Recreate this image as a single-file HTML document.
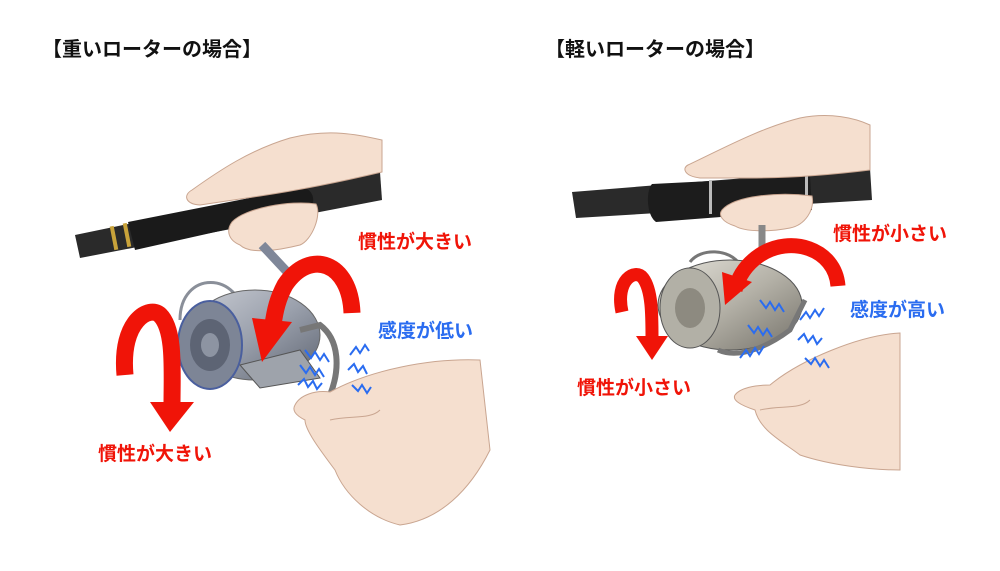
<!DOCTYPE html>
<html><head><meta charset="utf-8">
<style>
html,body{margin:0;padding:0;background:#fff;}
svg{display:block}
text{font-family:"Liberation Sans","Noto Sans CJK JP",sans-serif;font-weight:bold;}
</style></head><body>
<svg width="1000" height="571" viewBox="0 0 1000 571" xmlns="http://www.w3.org/2000/svg">
<defs>
<linearGradient id="reel" x1="0" y1="0" x2="1" y2="1">
<stop offset="0" stop-color="#c9ccd3"/><stop offset="0.5" stop-color="#9aa0ac"/><stop offset="1" stop-color="#5f6572"/></linearGradient>
<linearGradient id="reel2" x1="0" y1="0" x2="1" y2="1">
<stop offset="0" stop-color="#e4e2da"/><stop offset="0.5" stop-color="#b4b1a7"/><stop offset="1" stop-color="#75726a"/></linearGradient>
</defs>
<text x="42" y="56" font-size="20" fill="#111">【重いローターの場合】</text>
<text x="545" y="56" font-size="20" fill="#111">【軽いローターの場合】</text>

<!-- LEFT -->
<path d="M75 235 L380 172 L382 200 L80 258 Z" fill="#2a2a2a"/>
<path d="M128 222 L300 188 C315 186 318 208 305 212 L135 250 Z" fill="#1a1a1a"/>
<rect x="112" y="226" width="4" height="24" fill="#c9a33a" transform="rotate(-11 114 238)"/>
<rect x="125" y="223" width="4" height="24" fill="#c9a33a" transform="rotate(-11 127 235)"/>
<!-- top hand -->
<path d="M192 190 C220 170 250 150 290 138 C330 128 360 135 382 140 L382 172 C340 182 300 190 260 196 L200 205 C185 204 183 195 192 190 Z" fill="#f5dfcf" stroke="#c9a590" stroke-width="1"/>
<path d="M232 222 C245 208 290 200 316 204 C322 215 312 240 300 245 C280 250 250 255 240 245 C228 240 226 230 232 222 Z" fill="#f5dfcf" stroke="#c9a590" stroke-width="1"/>
<!-- reel arm -->
<path d="M262 245 L290 275 L282 290" fill="none" stroke="#7f8799" stroke-width="9"/>
<path d="M180 320 C180 270 240 270 245 320" fill="none" stroke="#8a8f99" stroke-width="3"/>
<ellipse cx="255" cy="335" rx="65" ry="45" fill="url(#reel)" stroke="#666"/>
<ellipse cx="210" cy="345" rx="32" ry="44" fill="#7d8596" stroke="#4a5f9e" stroke-width="2"/>
<ellipse cx="210" cy="345" rx="20" ry="26" fill="#5d6474"/>
<ellipse cx="210" cy="345" rx="9" ry="12" fill="#8d94a2"/>
<path d="M240 365 L300 350 L320 378 L260 388 Z" fill="#9ea3ab" stroke="#555"/>
<path d="M300 330 L320 325 C340 340 340 370 330 395 L320 395" fill="none" stroke="#777" stroke-width="6"/>
<!-- bottom hand -->
<path d="M295 405 C300 395 315 390 330 392 C370 370 430 358 480 360 L490 450 C470 490 440 520 400 525 C370 518 345 495 335 470 C320 450 305 430 305 420 C295 415 292 410 295 405 Z" fill="#f5dfcf" stroke="#c9a590" stroke-width="1"/>
<path d="M330 420 C350 415 370 420 380 410" fill="none" stroke="#c9a590"/>
<!-- red arrows left -->
<path d="M352 313 C350 262 310 248 285 285 C278 298 275 310 273 325" fill="none" stroke="#f01408" stroke-width="17"/>
<polygon points="262,362 252,318 292,322" fill="#f01408"/>
<path d="M125 375 C120 320 150 305 160 315 C175 330 172 370 172 405" fill="none" stroke="#f01408" stroke-width="17"/>
<polygon points="170,432 150,402 194,402" fill="#f01408"/>
<g fill="none" stroke="#2a6cf0" stroke-width="2">
<path d="M305 350 l6 8 4-6 5 8 4-6 5 8"/>
<path d="M300 365 l6 8 4-6 5 8 4-6 5 8"/>
<path d="M298 385 l6 -6 4 8 5 -6 4 8 5 -6"/>
<path d="M350 355 l6 -8 4 6 5 -8 4 6"/>
<path d="M348 370 l6 -6 4 8 5 -6 4 8"/>
<path d="M352 385 l6 6 4-6 5 8 4-6"/>
</g>
<text x="358" y="248" font-size="19" fill="#f01408">慣性が大きい</text>
<text x="378" y="337" font-size="19" fill="#2a6cf0">感度が低い</text>
<text x="98" y="460" font-size="19" fill="#f01408">慣性が大きい</text>

<!-- RIGHT -->
<path d="M572 192 L870 168 L872 200 L576 218 Z" fill="#2a2a2a"/>
<path d="M652 184 L810 176 L812 210 L656 222 C646 215 646 190 652 184 Z" fill="#1c1c1c"/>
<rect x="709" y="180" width="3" height="34" fill="#bbb"/>
<rect x="805" y="174" width="3" height="34" fill="#bbb"/>
<!-- top hand -->
<path d="M688 165 C720 150 760 128 800 118 C830 112 855 118 870 125 L870 170 C830 175 790 178 750 178 L700 178 C684 176 682 168 688 165 Z" fill="#f5dfcf" stroke="#c9a590" stroke-width="1"/>
<path d="M722 210 C735 195 780 192 812 196 C815 210 805 225 790 228 C770 232 745 232 735 226 C722 222 718 215 722 210 Z" fill="#f5dfcf" stroke="#c9a590" stroke-width="1"/>
<path d="M762 225 L762 255" stroke="#888" stroke-width="7"/>
<path d="M690 262 C700 248 730 248 740 265" fill="none" stroke="#777" stroke-width="3"/>
<ellipse cx="730" cy="305" rx="72" ry="45" fill="url(#reel2)" stroke="#555"/>
<ellipse cx="690" cy="308" rx="30" ry="40" fill="#b2b0a6" stroke="#555"/>
<ellipse cx="690" cy="308" rx="15" ry="20" fill="#8d8a80"/>
<path d="M718 350 C740 360 770 345 790 330 L805 300" fill="none" stroke="#777" stroke-width="5"/>
<!-- bottom hand -->
<path d="M735 395 C740 388 755 385 770 385 C800 360 860 335 900 333 L900 470 C870 470 830 465 800 455 C780 440 760 430 755 410 C740 405 732 400 735 395 Z" fill="#f5dfcf" stroke="#c9a590" stroke-width="1"/>
<path d="M760 410 C780 405 800 410 810 400" fill="none" stroke="#c9a590"/>
<path d="M838 286 C835 248 790 235 760 255 C745 265 738 278 735 290" fill="none" stroke="#f01408" stroke-width="15"/>
<polygon points="725,305 722,272 752,282" fill="#f01408"/>
<path d="M622 312 C615 280 635 268 643 278 C652 290 652 315 652 338" fill="none" stroke="#f01408" stroke-width="13"/>
<polygon points="652,360 636,336 668,336" fill="#f01408"/>
<g fill="none" stroke="#2a6cf0" stroke-width="2">
<path d="M760 300 l6 8 4-6 5 8 4-6 5 8"/>
<path d="M748 325 l6 8 4-6 5 8 4-6 5 8"/>
<path d="M740 358 l6 -8 4 6 5 -8 4 6 5 -8"/>
<path d="M800 320 l6 -8 4 6 5 -8 4 6 5-8"/>
<path d="M798 340 l6 -6 4 8 5 -6 4 8 5-6"/>
<path d="M805 358 l6 6 4-6 5 8 4-6 5 8"/>
</g>
<text x="833" y="240" font-size="19" fill="#f01408">慣性が小さい</text>
<text x="850" y="316" font-size="19" fill="#2a6cf0">感度が高い</text>
<text x="577" y="394" font-size="19" fill="#f01408">慣性が小さい</text>
</svg>
</body></html>
